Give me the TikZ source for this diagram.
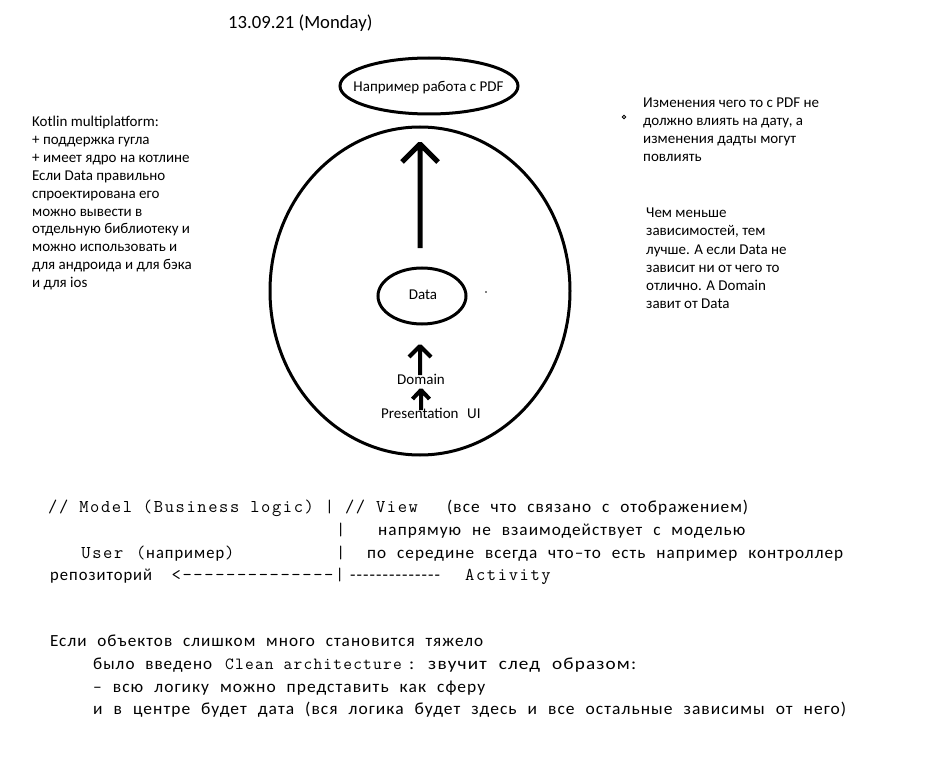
\documentclass[tikz,border=0pt]{standalone}
\usepackage{fontspec}
\usepackage{graphicx}
\setmainfont{Carlito}
\newfontfamily\monof[LetterSpace=9]{Latin Modern Mono}
\newfontfamily\monofb[LetterSpace=7]{Latin Modern Mono}
\newfontfamily\cyrf[LetterSpace=6,WordSpace={2.2}]{Carlito}
\usetikzlibrary{shapes.geometric}
\newcommand\fitto[2]{\resizebox{#1pt}{\height}{#2}}
\tikzset{
  txt/.style={inner sep=0pt, anchor=base west, font=\fontsize{15}{18}\selectfont},
  mo/.style={inner sep=0pt, anchor=base west, font=\monof\fontsize{18}{20}\selectfont},
  mob/.style={inner sep=0pt, anchor=base west, font=\monofb\fontsize{17}{20}\selectfont},
  cy/.style={inner sep=0pt, anchor=base west, font=\cyrf\fontsize{17}{20}\selectfont},
  oval/.style={draw, ellipse, line width=3pt, inner sep=0pt},
  bigarrow/.style={line width=5pt, line join=bevel},
  smallarrow/.style={line width=4pt, line join=bevel},
}
\begin{document}
\begin{tikzpicture}[x=1pt,y=-1pt]
\useasboundingbox[fill=white] (0,0) rectangle (927,765);

% title
\node[txt, font=\fontsize{18.67}{22}\selectfont] (date) at (228,29) {13.09.21 (Monday)};

% ellipses
\node[oval, minimum width=178pt, minimum height=56pt] (pdf) at (429,86) {};
\node[txt, anchor=base] (pdftext) at (428.5,92) {Например работа с PDF};
\node[oval, minimum width=300pt, minimum height=328pt] (sphere) at (420,291) {};
\node[oval, minimum width=88pt, minimum height=56pt] (data) at (422,296) {};
\node[txt, anchor=base] (datatext) at (423,299) {Data};
\fill (486,292) circle (0.9pt);

% inner labels
\node[txt] (domain) at (397,384) {Domain};
\node[txt] (pres) at (381,418) {Presentation};
\node[txt] (ui) at (467,418) {UI};

% arrows
\coordinate (bigS) at (420,248);
\coordinate (bigT) at (420,144);
\draw[bigarrow] (bigS) -- (bigT) ++(-18,18) -- (bigT) -- ++(18,18);
\coordinate (domS) at (420,375);
\coordinate (domT) at (420,346);
\draw[smallarrow] (domS) -- (domT) ++(-11,11) -- (domT) -- ++(11,11);
\coordinate (preS) at (421,410);
\coordinate (preT) at (421,390);
\draw[smallarrow] (preS) -- (preT) ++(-8.5,9) -- (preT) -- ++(8.5,9);

% left notes
\foreach \t [count=\i] in {Kotlin multiplatform:, + поддержка гугла, + имеет ядро на котлине,
  Если Data правильно, спроектирована его, можно вывести в, отдельную библиотеку и,
  можно использовать и, для андроида и для бэка, и для ios}
  \node[txt, name=left\i] at (32,{127+17.8*(\i-1)}) {\t};

% right notes
\draw[line width=0.8pt] (624,117) circle (1.8pt);
\foreach \t [count=\i] in {Изменения чего то с PDF не, {должно влиять на дату, а}, изменения дадты могут, повлиять}
  \node[txt, name=ra\i] at (643,{108+18*(\i-1)}) {\t};
\foreach \t [count=\i] in {Чем меньше, {зависимостей, тем}, лучше. А если Data не, зависит ни от чего то, отлично. А Domain, завит от Data}
  \node[txt, name=rb\i] at (646,{218+18*(\i-1)}) {\t};

% MVC lines
\node[mo] (m1a) at (48,512) {// Model (Business logic) | // View};
\node[cy] (m1b) at (447,512) {\fitto{301}{(все что связано с отображением)}};
\node[mo] (m2a) at (335.8,535) {|};
\node[cy] (m2b) at (378,535) {\fitto{367}{напрямую не взаимодействует с моделью}};
\node[mo] (m3a) at (81.2,558) {User};
\node[mo] (m3p) at (136,558) {(};
\node[cy] (m3b) at (146,558) {\fitto{78}{например}};
\node[mo] (m3c) at (225,558) {)};
\node[mo] (m3d) at (335.8,558) {|};
\node[cy] (m3e) at (367,558) {\fitto{476}{по середине всегда что–то есть например контроллер}};
\node[cy] (m4a) at (50,580) {\fitto{102}{репозиторий}};
\node[mo] (m4b) at (171.5,580) {<--------------|};
\node[cy] (m4c) at (350,580) {\fitto{90}{--------------}};
\node[mo] (m4d) at (465,580) {Activity};

% clean architecture lines
\node[cy] (c1) at (50,646) {\fitto{433}{Если объектов слишком много становится тяжело}};
\node[cy] (c2a) at (93,669) {\fitto{119}{было введено}};
\node[mob] (c2b) at (225,669) {Clean architecture};
\node[cy] (c2c) at (409,669) {\fitto{227}{: звучит след образом:}};
\node[cy] (c3) at (93,692) {\fitto{392}{– всю логику можно представить как сферу}};
\node[cy] (c4) at (93,714) {\fitto{753}{и в центре будет дата (вся логика будет здесь и все остальные зависимы от него)}};
\end{tikzpicture}
\end{document}
